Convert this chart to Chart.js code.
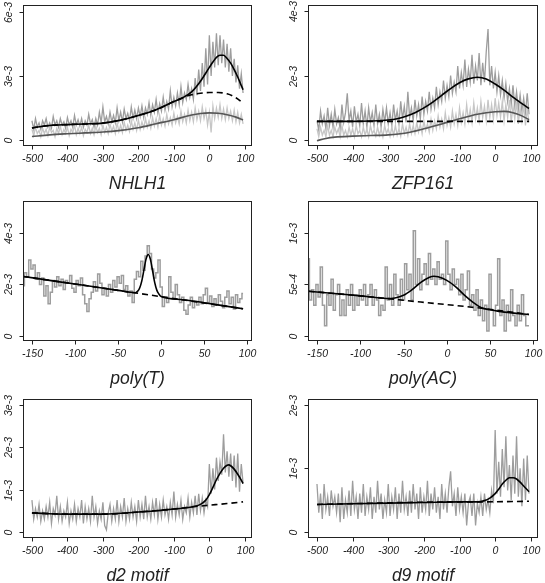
<!DOCTYPE html>
<html>
<head>
<meta charset="utf-8">
<script src="https://cdn.jsdelivr.net/npm/chart.js@4.4.1/dist/chart.umd.min.js"></script>
<style>
  html, body { margin: 0; padding: 0; background: #fff; }
  #wrap { position: relative; width: 545px; height: 583px; }
  canvas { position: absolute; left: 0; top: 0; }
</style>
</head>
<body>
<div id="wrap">
  <canvas id="c1" width="545" height="583"></canvas>
  <canvas id="c2" width="545" height="583"></canvas>
  <canvas id="c3" width="545" height="583"></canvas>
  <canvas id="c4" width="545" height="583"></canvas>
  <canvas id="c5" width="545" height="583"></canvas>
  <canvas id="c6" width="545" height="583"></canvas>
</div>
<script>
const W = 545, H = 583;

// bin positions of the noisy profiles
const gridWide = Array.from({ length: 120 }, (_, i) => -500 + 5 * i);   // -500 .. 95
const gridNarrow = Array.from({ length: 103 }, (_, i) => -160 + 2.5 * i); // -160 .. 95

// all values in units of 1e-3
// NHLH1
const nhlhDark = [
  0.9, 0.5, 1.0, 0.6, 0.8, 0.5, 0.9, 0.7, 1.0, 0.6,
  0.8, 0.55, 1.1, 0.7, 0.9, 0.6, 1.0, 0.7, 0.85, 0.55,
  1.05, 0.7, 0.9, 0.6, 1.15, 0.7, 0.95, 0.65, 1.0, 0.6,
  0.9, 0.7, 1.2, 0.75, 0.95, 0.6, 1.0, 0.7, 1.3, 0.8,
  1.55, 0.85, 1.1, 0.75, 1.3, 0.85, 1.15, 0.8, 1.5, 0.9,
  1.3, 0.85, 1.45, 1.0, 1.25, 0.9, 1.55, 1.0, 1.4, 1.0,
  1.5, 1.1, 1.6, 1.05, 1.5, 1.2, 1.75, 1.15, 1.65, 1.3,
  1.9, 1.25, 1.7, 1.35, 2.0, 1.4, 1.8, 1.45, 2.3, 1.55,
  2.0, 1.6, 2.2, 1.65, 2.5, 1.75, 2.2, 1.9, 2.6, 2.0,
  2.4, 1.9, 2.9, 2.1, 3.3, 2.3, 3.6, 2.5, 4.3, 2.6,
  4.9, 3.0, 4.6, 3.4, 5.0, 3.5, 4.9, 3.6, 4.7, 3.4,
  4.5, 3.2, 4.3, 3.0, 3.8, 2.7, 3.5, 2.4, 3.1, 2.2
];
const nhlhLight = [
  0.5, 0.2, 0.6, 0.3, 0.45, 0.15, 0.55, 0.3, 0.5, 0.2,
  0.6, 0.35, 0.45, 0.15, 0.55, 0.3, 0.65, 0.25, 0.5, 0.3,
  0.6, 0.2, 0.5, 0.35, 0.7, 0.25, 0.55, 0.3, 0.6, 0.2,
  0.5, 0.35, 0.7, 0.3, 0.55, 0.25, 0.65, 0.35, 0.55, 0.25,
  0.7, 0.35, 0.6, 0.3, 0.75, 0.4, 0.65, 0.3, 0.8, 0.4,
  0.7, 0.35, 0.85, 0.45, 0.7, 0.4, 0.9, 0.5, 0.8, 0.45,
  0.95, 0.5, 0.85, 0.55, 1.0, 0.6, 0.9, 0.55, 1.05, 0.65,
  1.0, 0.6, 1.15, 0.7, 1.0, 0.65, 1.2, 0.75, 1.05, 0.7,
  1.25, 0.8, 1.1, 0.75, 1.35, 0.85, 1.2, 0.8, 1.4, 0.9,
  1.3, 0.85, 1.5, 0.95, 1.35, 0.9, 1.55, 1.0, 1.4, 0.7,
  1.3, 0.35, 1.6, 1.0, 1.5, 1.05, 1.65, 1.0, 1.45, 0.95,
  1.5, 1.0, 1.35, 0.9, 1.4, 0.85, 1.3, 0.8, 1.2, 0.75
];
const nhlhFitX = [-500, -450, -400, -350, -300, -250, -200, -150, -100, -75, -50, -25, 0, 10, 20, 30, 40, 50, 60, 70, 80, 90, 95];
const nhlhFit = [0.56, 0.68, 0.72, 0.75, 0.79, 0.93, 1.15, 1.42, 1.8, 1.98, 2.25, 2.75, 3.4, 3.65, 3.87, 3.97, 3.97, 3.82, 3.6, 3.3, 2.95, 2.55, 2.35];
const nhlhBaseX = [-500, -450, -400, -350, -300, -250, -200, -150, -100, -75, -50, -25, 0, 25, 50, 75, 95];
const nhlhBase = [0.56, 0.68, 0.72, 0.75, 0.79, 0.93, 1.15, 1.42, 1.8, 1.98, 2.12, 2.19, 2.22, 2.22, 2.16, 1.98, 1.72];
const nhlhLowX = [-500, -450, -400, -350, -300, -250, -200, -150, -100, -50, -25, 0, 25, 50, 75, 95];
const nhlhLow = [0.16, 0.24, 0.29, 0.33, 0.37, 0.45, 0.57, 0.76, 0.95, 1.17, 1.24, 1.27, 1.25, 1.18, 1.07, 0.94];

// ZFP161
const zfpDark = [
  0.6, 0.3, 0.9, 0.5, 0.75, 0.35, 1.0, 0.45, 0.8, 0.4,
  0.95, 0.5, 0.7, 0.35, 1.1, 0.55, 0.85, 1.45, 0.6, 0.9,
  0.4, 1.05, 0.55, 0.8, 0.45, 1.15, 0.5, 0.9, 0.4, 1.0,
  0.55, 0.85, 0.45, 1.1, 0.5, 0.8, 0.4, 0.95, 0.55, 1.0,
  0.5, 0.85, 0.45, 1.1, 0.6, 0.9, 0.5, 1.2, 0.65, 1.05,
  0.55, 1.5, 0.7, 1.0, 0.6, 1.25, 0.75, 1.1, 0.65, 1.35,
  0.8, 1.2, 0.9, 1.5, 0.95, 1.3, 1.0, 1.65, 1.1, 1.5,
  1.2, 1.85, 1.3, 1.7, 1.35, 2.0, 1.45, 1.8, 1.5, 2.3,
  1.6, 2.1, 1.7, 2.5, 1.65, 2.2, 1.8, 2.65, 1.75, 2.3,
  1.85, 2.7, 1.7, 2.4, 1.8, 2.75, 3.45, 1.7, 2.3, 1.6,
  2.1, 1.5, 2.0, 1.4, 1.85, 1.3, 1.75, 1.2, 1.6, 1.1,
  1.7, 1.05, 1.5, 0.95, 1.4, 0.9, 1.3, 0.85, 1.45, 0.8
];
const zfpLight = [
  0.35, 0.1, 0.4, 0.15, 0.3, 0.1, 0.45, 0.15, 0.3, 0.1,
  0.4, 0.2, 0.35, 0.1, 0.45, 0.15, 0.3, 0.1, 0.4, 0.15,
  0.35, 0.1, 0.45, 0.2, 0.3, 0.1, 0.4, 0.15, 0.35, 0.1,
  0.45, 0.2, 0.3, 0.12, 0.4, 0.15, 0.35, 0.1, 0.45, 0.2,
  0.35, 0.12, 0.4, 0.15, 0.45, 0.15, 0.35, 0.12, 0.5, 0.2,
  0.4, 0.15, 0.5, 0.2, 0.45, 0.2, 0.55, 0.25, 0.5, 0.2,
  0.6, 0.3, 0.5, 0.25, 0.65, 0.3, 0.6, 0.35, 0.75, 0.4,
  0.65, 0.35, 0.85, 0.45, 0.7, 0.4, 0.9, 0.5, 0.8, 0.45,
  1.0, 0.55, 0.85, 0.5, 1.1, 0.6, 0.95, 0.55, 1.15, 0.65,
  1.0, 0.6, 1.2, 0.7, 1.05, 0.6, 1.25, 0.7, 1.1, 0.65,
  1.3, 0.75, 1.15, 0.7, 1.2, 0.6, 1.1, 0.7, 1.25, 0.55,
  1.05, 0.65, 1.2, 0.5, 1.0, 0.6, 1.1, 0.45, 0.95, 0.55
];
const zfpFitX = [-500, -450, -400, -350, -300, -275, -250, -225, -200, -175, -150, -125, -100, -75, -50, -25, 0, 25, 50, 75, 95];
const zfpFit = [0.58, 0.58, 0.58, 0.59, 0.62, 0.66, 0.74, 0.85, 1.0, 1.18, 1.39, 1.6, 1.78, 1.9, 1.95, 1.9, 1.74, 1.55, 1.33, 1.13, 0.98];
const zfpBaseX = [-500, 95];
const zfpBase = [0.58, 0.58];
const zfpLowX = [-500, -475, -450, -400, -350, -300, -250, -200, -150, -100, -50, 0, 25, 50, 75, 95];
const zfpLow = [-0.02, 0.05, 0.09, 0.12, 0.14, 0.16, 0.22, 0.35, 0.5, 0.66, 0.8, 0.88, 0.89, 0.85, 0.75, 0.63];

// poly(T)
const polyT = [
  1.95, 2.45, 2.3, 2.95, 2.6, 2.75, 2.2, 2.45, 2.0, 2.25,
  1.55, 1.95, 1.25, 1.7, 2.15, 1.9, 2.3, 1.95, 2.2, 1.8,
  2.15, 2.05, 2.35, 1.85, 1.7, 2.15, 1.95, 2.25, 1.6, 1.25,
  0.95, 1.45, 1.7, 2.1, 1.75, 2.4, 2.05, 1.6, 1.85, 1.55,
  2.0, 1.7, 2.15, 1.9, 2.3, 2.05, 2.35, 1.8, 1.95, 1.55,
  1.75, 1.3, 2.2, 2.5, 2.3, 2.9, 2.55, 3.1, 3.5, 3.2,
  2.6, 2.25, 2.45, 2.95, 1.9, 1.15, 1.5, 1.3, 2.3, 1.7,
  1.45, 2.0, 1.6, 1.3, 1.5, 1.0, 0.85, 1.2, 1.5, 1.1,
  1.35, 1.2, 1.5, 1.25, 1.6, 1.85, 1.3, 1.55, 1.15, 1.45,
  1.2, 1.6, 1.35, 1.1, 1.5, 1.75, 1.25, 1.5, 1.05, 1.6,
  1.3, 1.45, 1.65
];
const polyTFitX = [-160, -120, -80, -50, -30, -27.5, -25, -22.5, -20, -17.5, -15, -12.5, -10, -7.5, -5, -2.5, 0, 25, 50, 75, 95];
const polyTFit = [2.31, 2.11, 1.92, 1.77, 1.68, 1.73, 1.86, 2.14, 2.57, 2.99, 3.16, 2.97, 2.53, 2.07, 1.77, 1.62, 1.53, 1.41, 1.29, 1.16, 1.06];
const polyTBaseX = [-160, 95];
const polyTBase = [2.31, 1.06];

// poly(AC)
const polyAC = [
  0.75, 0.35, 0.45, 0.3, 0.5, 0.38, 0.67, 0.3, 0.1, 0.4,
  0.3, 0.55, 0.25, 0.4, 0.5, 0.2, 0.35, 0.2, 0.45, 0.3,
  0.5, 0.25, 0.4, 0.3, 0.45, 0.35, 0.5, 0.3, 0.4, 0.5,
  0.3, 0.45, 0.35, 0.2, 0.3, 0.25, 0.67, 0.35, 0.5, 0.3,
  0.6, 0.4, 0.3, 0.55, 0.35, 0.7, 0.45, 0.6, 0.35, 1.02,
  0.5, 0.75, 0.45, 0.6, 0.7, 0.5, 0.8, 0.55, 0.65, 0.5,
  0.72, 0.55, 0.6, 0.5, 0.92, 0.6, 0.45, 0.65, 0.5, 0.55,
  0.4, 0.6, 0.35, 0.45, 0.63, 0.3, 0.4, 0.25, 0.45, 0.2,
  0.35, 0.15, 0.3, 0.05, 0.6, 0.25, 0.1, 0.3, 0.75, 0.2,
  0.35, 0.05, 0.3, 0.15, 0.45, 0.2, 0.1, 0.3, 0.15, 0.4,
  0.2, 0.1, 0.1
];
const polyACFitX = [-160, -140, -120, -100, -80, -70, -60, -50, -40, -30, -20, -15, -10, 0, 10, 20, 30, 40, 50, 60, 75, 95];
const polyACFit = [0.435, 0.42, 0.405, 0.39, 0.372, 0.365, 0.37, 0.395, 0.45, 0.52, 0.57, 0.58, 0.575, 0.54, 0.48, 0.4, 0.33, 0.275, 0.255, 0.24, 0.225, 0.21];
const polyACBaseX = [-160, -100, -70, -30, 0, 40, 95];
const polyACBase = [0.435, 0.39, 0.365, 0.33, 0.305, 0.27, 0.21];

// d2 motif
const d2 = [
  0.75, 0.3, 0.55, 0.35, 0.65, 0.25, 0.5, 0.3, 0.6, 0.35,
  0.7, 0.2, 0.55, 0.4, 0.85, 0.3, 0.6, 0.25, 0.5, 0.35,
  0.7, 0.2, 0.5, 0.3, 0.65, 0.25, 0.55, 0.35, 0.75, 0.2,
  0.6, 0.3, 0.55, 0.25, 0.85, 0.35, 0.6, 0.2, 0.5, 0.3,
  0.7, 0.15, 0.05, 0.45, 0.65, 0.25, 0.55, 0.3, 0.75, 0.25,
  0.6, 0.35, 0.8, 0.25, 0.55, 0.3, 0.7, 0.35, 0.6, 0.25,
  0.75, 0.35, 0.65, 0.3, 0.85, 0.35, 0.6, 0.3, 0.7, 0.4,
  0.8, 0.3, 0.65, 0.35, 0.75, 0.4, 0.6, 0.3, 0.7, 0.4,
  0.95, 0.35, 0.65, 0.4, 0.75, 0.3, 0.6, 0.45, 0.8, 0.35,
  0.7, 0.45, 0.85, 0.4, 0.9, 0.5, 0.8, 0.45, 0.75, 0.6,
  1.6, 0.9, 1.5, 1.0, 1.75, 1.2, 1.65, 1.35, 2.3, 1.4,
  1.9, 1.3, 1.85, 1.2, 1.8, 1.05, 1.85, 0.95, 1.6, 1.15
];
const d2FitX = [-500, -450, -400, -350, -300, -250, -200, -150, -100, -75, -50, -25, -10, 0, 10, 20, 30, 40, 50, 55, 60, 70, 80, 90, 95];
const d2Fit = [0.45, 0.43, 0.42, 0.42, 0.42, 0.44, 0.47, 0.5, 0.54, 0.56, 0.59, 0.65, 0.75, 0.88, 1.05, 1.23, 1.38, 1.5, 1.57, 1.58, 1.56, 1.48, 1.36, 1.22, 1.14];
const d2BaseX = [-500, -400, -300, -200, -100, -50, 0, 50, 95];
const d2Base = [0.45, 0.42, 0.42, 0.47, 0.54, 0.59, 0.63, 0.67, 0.71];

// d9 motif
const d9 = [
  0.75, 0.3, 0.6, 0.2, 0.75, 0.35, 0.55, 0.25, 0.65, 0.4,
  0.55, 0.3, 0.6, 0.15, 0.7, 0.2, 0.5, 0.3, 0.65, 0.25,
  0.8, 0.35, 0.55, 0.2, 0.6, 0.3, 0.75, 0.25, 0.55, 0.35,
  0.7, 0.2, 0.55, 0.3, 0.8, 0.35, 0.6, 0.2, 0.5, 0.3,
  0.75, 0.25, 0.55, 0.35, 0.7, 0.2, 0.6, 0.3, 0.8, 0.35,
  0.55, 0.25, 0.65, 0.3, 0.75, 0.35, 0.6, 0.2, 0.7, 0.3,
  0.55, 0.35, 0.8, 0.25, 0.6, 0.35, 0.7, 0.3, 0.55, 0.2,
  0.75, 0.35, 0.6, 0.3, 0.7, 0.95, 0.4, 0.6, 0.25, 0.7,
  0.35, 0.55, 0.3, 0.6, 0.1, 0.45, 0.55, 0.25, 0.6, 0.1,
  0.45, 0.3, 0.55, 0.25, 0.6, 0.35, 0.5, 0.3, 0.65, 0.45,
  1.6, 0.6, 1.1, 0.55, 1.3, 0.7, 1.5, 0.65, 1.05, 0.5,
  1.2, 0.6, 1.5, 0.55, 1.0, 0.4, 1.15, 0.5, 1.2, 0.6
];
const d9FitX = [-500, -400, -300, -200, -100, -50, -30, -15, 0, 10, 20, 30, 40, 50, 60, 70, 80, 90, 95];
const d9Fit = [0.43, 0.44, 0.45, 0.46, 0.47, 0.47, 0.49, 0.53, 0.6, 0.67, 0.75, 0.81, 0.85, 0.85, 0.83, 0.78, 0.72, 0.66, 0.63];
const d9BaseX = [-500, -100, -50, 95];
const d9Base = [0.43, 0.47, 0.47, 0.48];

// tick values and labels
const wideTicks = [-500, -400, -300, -200, -100, 0, 100];
const narrowTicks = [-150, -100, -50, 0, 50, 100];

const GRAY = '#9d9d9d', LIGHT = '#c6c6c6', LOW = '#555555';
const tickFont = 'italic 10.5px "Liberation Sans", Arial, sans-serif';
const titleFont = 'italic 17.5px "Liberation Sans", Arial, sans-serif';

function pts(xs, ys) {
  return xs.map((x, i) => ({ x: x, y: ys[i] }));
}
function noisy(xs, ys, color, stepped, width) {
  return { data: pts(xs, ys), borderColor: color, borderWidth: width || 1.3, pointRadius: 0, stepped: stepped || false, clip: 0 };
}
function curve(xs, ys, color, dash) {
  return {
    data: pts(xs, ys), borderColor: color, borderWidth: 1.6, pointRadius: 0,
    cubicInterpolationMode: 'monotone', borderDash: dash || [], clip: 0
  };
}

// R-like box, ticks and italic labels
function rAxes(p) {
  return {
    id: 'rAxes',
    afterDatasetsDraw(chart) {
      const ctx = chart.ctx, a = chart.chartArea;
      const xs = chart.scales.x, ys = chart.scales.y;
      ctx.save();
      ctx.strokeStyle = '#222';
      ctx.fillStyle = '#222';
      ctx.lineWidth = 1;
      ctx.strokeRect(a.left, a.top, a.right - a.left, a.bottom - a.top);
      ctx.font = tickFont;
      ctx.textAlign = 'center';
      ctx.textBaseline = 'alphabetic';
      p.xTicks.forEach(v => {
        const px = Math.round(xs.getPixelForValue(v)) + 0.5;
        ctx.beginPath();
        ctx.moveTo(px, a.bottom);
        ctx.lineTo(px, a.bottom + 4);
        ctx.stroke();
        ctx.fillText(String(v), px, a.bottom + 16);
      });
      p.yTicks.forEach((v, i) => {
        const py = Math.round(ys.getPixelForValue(v)) + 0.5;
        ctx.beginPath();
        ctx.moveTo(a.left - 4, py);
        ctx.lineTo(a.left, py);
        ctx.stroke();
        ctx.save();
        ctx.translate(a.left - 12, py);
        ctx.rotate(-Math.PI / 2);
        ctx.fillText(p.yLabels[i], 0, 0);
        ctx.restore();
      });
      ctx.font = titleFont;
      ctx.fillText(p.title, (a.left + a.right) / 2, a.bottom + 43);
      ctx.restore();
    }
  };
}

function panel(id, p, datasets) {
  new Chart(document.getElementById(id), {
    type: 'line',
    data: { datasets: datasets },
    options: {
      responsive: false,
      animation: false,
      devicePixelRatio: 1,
      events: [],
      layout: { padding: { left: p.box[0], top: p.box[1], right: W - p.box[2], bottom: H - p.box[3] } },
      scales: {
        x: { type: 'linear', display: false, min: p.xRange[0], max: p.xRange[1] },
        y: { type: 'linear', display: false, min: p.yRange[0], max: p.yRange[1] }
      },
      plugins: { legend: { display: false }, tooltip: { enabled: false } }
    },
    plugins: [rAxes(p)]
  });
}

const colL = [23.5, 251.5], colR = [308.5, 537.5];
const row1 = [5.5, 145.5], row2 = [201.5, 340.5], row3 = [399.5, 537.5];
const wideRange = [-523.8, 118.8], narrowRange = [-159.8, 104.8];

panel('c1', {
  box: [colL[0], row1[0], colL[1], row1[1]], xRange: wideRange, yRange: [-0.26, 6.3],
  xTicks: wideTicks, yTicks: [0, 3, 6], yLabels: ['0', '3e-3', '6e-3'], title: 'NHLH1'
}, [
  curve(nhlhFitX, nhlhFit, '#000'),
  curve(nhlhBaseX, nhlhBase, '#000', [6, 4]),
  curve(nhlhLowX, nhlhLow, LOW),
  noisy(gridWide, nhlhLight, LIGHT),
  noisy(gridWide, nhlhDark, GRAY)
]);

panel('c2', {
  box: [colR[0], row1[0], colR[1], row1[1]], xRange: wideRange, yRange: [-0.17, 4.18],
  xTicks: wideTicks, yTicks: [0, 2, 4], yLabels: ['0', '2e-3', '4e-3'], title: 'ZFP161'
}, [
  curve(zfpFitX, zfpFit, '#000'),
  curve(zfpBaseX, zfpBase, '#000', [6, 4]),
  curve(zfpLowX, zfpLow, LOW),
  noisy(gridWide, zfpLight, LIGHT),
  noisy(gridWide, zfpDark, GRAY)
]);

panel('c3', {
  box: [colL[0], row2[0], colL[1], row2[1]], xRange: narrowRange, yRange: [-0.17, 5.21],
  xTicks: narrowTicks, yTicks: [0, 2, 4], yLabels: ['0', '2e-3', '4e-3'], title: 'poly(T)'
}, [
  curve(polyTFitX, polyTFit, '#000'),
  curve(polyTBaseX, polyTBase, '#000', [6, 4]),
  noisy(gridNarrow, polyT, GRAY, 'middle', 1.5)
]);

panel('c4', {
  box: [colR[0], row2[0], colR[1], row2[1]], xRange: narrowRange, yRange: [-0.042, 1.303],
  xTicks: narrowTicks, yTicks: [0, 0.5, 1], yLabels: ['0', '5e-4', '1e-3'], title: 'poly(AC)'
}, [
  curve(polyACFitX, polyACFit, '#000'),
  curve(polyACBaseX, polyACBase, '#000', [6, 4]),
  noisy(gridNarrow, polyAC, GRAY, 'middle', 1.5)
]);

panel('c5', {
  box: [colL[0], row3[0], colL[1], row3[1]], xRange: wideRange, yRange: [-0.13, 3.12],
  xTicks: wideTicks, yTicks: [0, 1, 2, 3], yLabels: ['0', '1e-3', '2e-3', '3e-3'], title: 'd2 motif'
}, [
  curve(d2FitX, d2Fit, '#000'),
  curve(d2BaseX, d2Base, '#000', [6, 4]),
  noisy(gridWide, d2, GRAY)
]);

panel('c6', {
  box: [colR[0], row3[0], colR[1], row3[1]], xRange: wideRange, yRange: [-0.09, 2.08],
  xTicks: wideTicks, yTicks: [0, 1, 2], yLabels: ['0', '1e-3', '2e-3'], title: 'd9 motif'
}, [
  curve(d9FitX, d9Fit, '#000'),
  curve(d9BaseX, d9Base, '#000', [6, 4]),
  noisy(gridWide, d9, GRAY)
]);
</script>
</body>
</html>
